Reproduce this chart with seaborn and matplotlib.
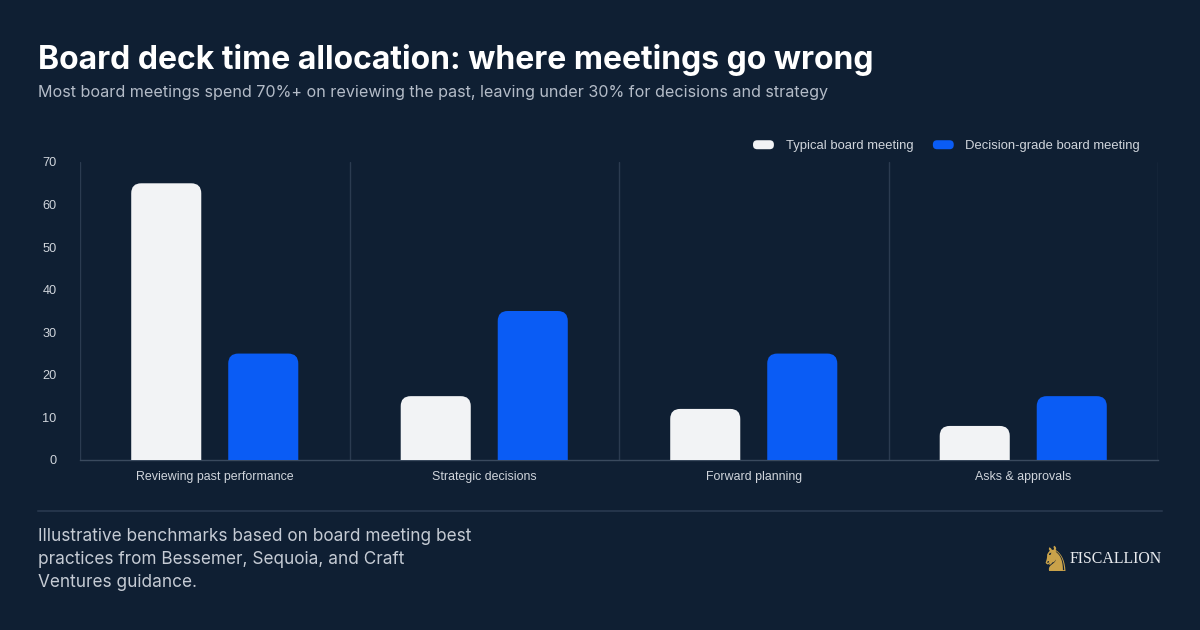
import matplotlib
matplotlib.use("Agg")
import matplotlib.pyplot as plt
import seaborn as sns
import pandas as pd
from matplotlib.patches import FancyBboxPatch
from matplotlib.legend_handler import HandlerPatch
from matplotlib.lines import Line2D

categories = ["Reviewing past performance", "Strategic decisions", "Forward planning", "Asks & approvals"]
series_names = ["Typical board meeting", "Decision-grade board meeting"]
typical = [65, 15, 12, 8]
decision = [25, 35, 25, 15]
yticks = [0, 10, 20, 30, 40, 50, 60, 70]

BG = "#0f1f33"
WHITE_BAR = "#f2f3f5"
BLUE_BAR = "#0a5cf5"
GRID = "#2b3b50"
TICK = "#d0d5dc"

df = pd.DataFrame({
    "category": categories * 2,
    "series": [series_names[0]] * 4 + [series_names[1]] * 4,
    "value": typical + decision,
})

sns.set_theme(style="dark")
plt.rcParams["font.family"] = ["Liberation Sans", "DejaVu Sans"]

fig = plt.figure(figsize=(12, 6.3), dpi=100, facecolor=BG)
ax = fig.add_axes([80/1200, 1-460/630, 1078/1200, 298/630])
ax.set_facecolor(BG)

sns.barplot(data=df, x="category", y="value", hue="series", order=categories,
            hue_order=series_names, palette=[WHITE_BAR, BLUE_BAR],
            width=0.72, gap=0.278, ax=ax, legend=False, saturation=1)

ax.set_xlim(-0.5, len(categories) - 0.5)
ax.set_ylim(0, 70)

# replace bars with rounded-top bars
px_per_x = 1078 / len(categories)
px_per_y = 298 / 70
aspect = (1/px_per_y) / (1/px_per_x)
r_px = 10
r_x = r_px / px_per_x
r_y = r_px / px_per_y
bars = list(ax.patches)
for p in bars:
    x, w, h = p.get_x(), p.get_width(), p.get_height()
    if h <= 0:
        continue
    fc = p.get_facecolor()
    p.remove()
    fb = FancyBboxPatch((x, -r_y), w, h + r_y,
                        boxstyle=f"round,pad=0,rounding_size={r_x}",
                        mutation_aspect=aspect, facecolor=fc, edgecolor="none",
                        zorder=3, clip_on=True)
    ax.add_patch(fb)

# vertical separators
for b in range(len(categories) + 1):
    ax.axvline(b - 0.5, color=GRID, lw=1, zorder=1)

for s in ["top", "right", "left"]:
    ax.spines[s].set_visible(False)
ax.spines["bottom"].set_visible(True)
ax.spines["bottom"].set_color("#3a4a5e")
ax.spines["bottom"].set_linewidth(1)
ax.grid(False)
ax.set_yticks(yticks)
ax.tick_params(axis="y", colors=TICK, labelsize=9.2, length=0, pad=17)
ax.tick_params(axis="x", colors=TICK, labelsize=8.9, length=0, pad=8)
ax.set_xlabel("")
ax.set_ylabel("")

# legend with rounded swatches
class RoundHandler(HandlerPatch):
    def create_artists(self, legend, orig_handle, xdescent, ydescent, width, height, fontsize, trans):
        p = FancyBboxPatch((-xdescent, -ydescent + height*0.05), width, height*0.9,
                           boxstyle="round,pad=0,rounding_size=3",
                           facecolor=orig_handle.get_facecolor(), edgecolor="none",
                           transform=trans)
        return [p]

handles = [FancyBboxPatch((0, 0), 1, 1, facecolor=c) for c in [WHITE_BAR, BLUE_BAR]]
leg = fig.legend(handles, series_names, loc="center right", bbox_to_anchor=(1152/1200, 1-146/630),
                 ncol=2, frameon=False, fontsize=9.4, labelcolor=TICK,
                 handlelength=1.6, handleheight=0.8, handletextpad=0.9, columnspacing=1.5,
                 handler_map={FancyBboxPatch: RoundHandler()})

# titles
fig.text(38/1200, 1-60/630, "Board deck time allocation: where meetings go wrong",
         color="white", fontsize=23, fontweight="bold", family=["Inter", "DejaVu Sans"],
         va="center", ha="left")
fig.text(38/1200, 1-93/630, "Most board meetings spend 70%+ on reviewing the past, leaving under 30% for decisions and strategy",
         color="#b4bcc8", fontsize=11.6, family=["Inter", "DejaVu Sans"], va="center", ha="left")

# footer
fig.add_artist(Line2D([38/1200, 1162/1200], [1-511/630, 1-511/630], color="#24344a", lw=1.5))
fig.text(38/1200, 1-528/630,
         "Illustrative benchmarks based on board meeting best\npractices from Bessemer, Sequoia, and Craft\nVentures guidance.",
         color="#c5cbd4", fontsize=12.4, family=["Inter", "DejaVu Sans"], va="top", ha="left",
         linespacing=1.45, transform=fig.transFigure)
fig.text(1039/1200, 1-561/630, "♞", color="#c9a24a", fontsize=25, family=["DejaVu Sans"],
         va="center", ha="left")
fig.text(1070/1200, 1-559/630, "FISCALLION", color="#e8eaee", fontsize=11.4,
         family=["Liberation Serif", "DejaVu Serif"], va="center", ha="left")

fig.savefig("out.png", dpi=100, facecolor=BG)
